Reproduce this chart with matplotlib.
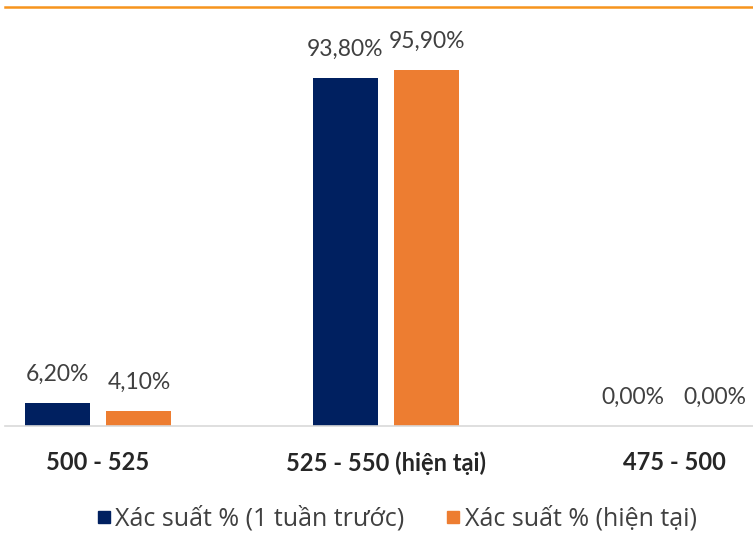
import matplotlib.pyplot as plt
import numpy as np
from matplotlib.lines import Line2D

# probability of each price range, %
categories = ['500 - 525', '525 - 550 (hiện tại)', '475 - 500']
prob_week_ago = [6.2, 93.8, 0.0]
prob_now = [4.1, 95.9, 0.0]
series_names = ['Xác suất % (1 tuần trước)', 'Xác suất % (hiện tại)']

navy = '#002060'
orange = '#ED7D31'

plt.rcParams['font.family'] = ['Lato', 'DejaVu Sans']

fig = plt.figure(figsize=(7.53, 5.36), dpi=100)
ax = fig.add_axes([5 / 753, 110 / 536, 748 / 753, 419 / 536])

x = np.arange(len(categories))
w = 0.226
off = 0.142
b1 = ax.bar(x - off, prob_week_ago, w, color=navy)
b2 = ax.bar(x + off, prob_now, w, color=orange)


def fmt(v):
    return f'{v:.2f}'.replace('.', ',') + '%'


for bars, vals in ((b1, prob_week_ago), (b2, prob_now)):
    ax.bar_label(bars, labels=[fmt(v) for v in vals], padding=13,
                 fontsize=16.5, color='#404040')

ax.set_xlim((5 - 98) / 288, (753 - 98) / 288)
ax.set_ylim(0, (426 - 7) / 3.71)

ax.set_xticks(x)
ax.set_xticklabels(categories, fontsize=17, fontweight='bold', color='#262626')
ax.tick_params(axis='x', length=0, pad=18)
ax.set_yticks([])

for s in ('left', 'right'):
    ax.spines[s].set_visible(False)
ax.spines['top'].set_color('#F7941D')
ax.spines['top'].set_linewidth(1.8)
ax.spines['bottom'].set_color('#D9D9D9')
ax.spines['bottom'].set_linewidth(1.2)

handles = [Line2D([], [], marker='s', linestyle='none', markersize=9, color=c)
           for c in (navy, orange)]
fig.legend(handles, series_names, loc='center', bbox_to_anchor=(0.526, 17 / 536),
           ncol=2, frameon=False, prop={'family': 'Open Sans', 'size': 18},
           handletextpad=0.1, columnspacing=1.6, labelcolor='#404040',
           handlelength=0.7)

fig.savefig('out.png', dpi=100)
